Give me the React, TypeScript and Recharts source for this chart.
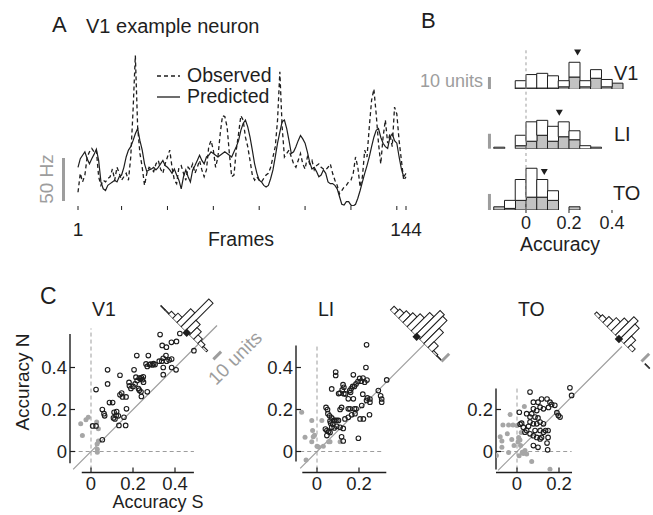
import React from 'react';
import {
  LineChart,
  Line,
  BarChart,
  Bar,
  ScatterChart,
  Scatter,
  XAxis,
  YAxis,
  Legend,
  ReferenceLine,
  ReferenceDot,
} from 'recharts';

const FONT = "'Liberation Sans', Arial, Helvetica, sans-serif";
const INK = '#1e1e1e';
const GREY = '#9d9d9d';
const BAR_GREY = '#c2c2c2';
const DOT_GREY = '#a6a6a6';

// ---------- A: V1 example neuron, rate per frame (Hz)
const observedHz = [
  21, 43, 33, 41, 62, 68, 72, 68, 70, 39,
  29, 35, 33, 37, 39, 48, 35, 50, 43, 35,
  39, 43, 35, 62, 116, 180, 97, 66, 50, 29,
  43, 50, 48, 45, 54, 58, 48, 43, 54, 62,
  70, 50, 35, 31, 50, 52, 43, 35, 50, 47,
  54, 43, 50, 58, 47, 39, 47, 74, 81, 70,
  50, 62, 89, 110, 109, 97, 66, 39, 41, 70,
  89, 110, 105, 85, 74, 58, 41, 35, 39, 35,
  33, 37, 41, 43, 50, 62, 74, 105, 161, 97,
  62, 66, 70, 62, 54, 50, 58, 66, 54, 48,
  62, 54, 58, 47, 52, 54, 50, 48, 47, 50,
  54, 43, 35, 29, 19, 23, 27, 29, 33, 35,
  43, 62, 50, 27, 39, 70, 62, 97, 128, 141,
  112, 78, 54, 85, 105, 78, 89, 74, 120, 112,
  81, 58, 35, 39,
];
const predictedHz = [
  50, 60, 64, 68, 60, 54, 60, 65, 71, 58,
  33, 25, 23, 29, 31, 33, 35, 33, 39, 41,
  50, 62, 70, 74, 81, 89, 95, 81, 70, 54,
  45, 47, 48, 50, 47, 50, 54, 58, 52, 50,
  47, 43, 48, 41, 35, 25, 39, 47, 39, 33,
  47, 52, 58, 64, 58, 54, 62, 64, 68, 66,
  64, 62, 64, 66, 68, 66, 64, 62, 68, 74,
  81, 93, 101, 105, 97, 85, 70, 54, 43, 35,
  33, 29, 27, 29, 37, 47, 62, 78, 91, 103,
  105, 95, 81, 66, 68, 74, 81, 87, 83, 78,
  68, 56, 48, 50, 45, 39, 41, 47, 43, 33,
  31, 31, 29, 25, 16, 7, 6, 10, 10, 6,
  5, 7, 14, 23, 33, 43, 52, 62, 74, 85,
  93, 95, 85, 78, 74, 72, 85, 89, 81, 78,
  62, 48, 39, 43,
];
const frameTicks = [1, 20, 40, 60, 80, 100, 120, 140, 144];

// ---------- B: accuracy histograms (bin centres, 0.05 wide)
const accBins = [-0.125, -0.075, -0.025, 0.025, 0.075, 0.125, 0.175, 0.225, 0.275, 0.325, 0.375, 0.425];
const v1Count = [0, 0, 7, 12, 13, 11, 7, 22, 7, 16, 8, 5];
const v1Grey = [0, 0, 1, 1, 1, 1, 2, 10, 2, 9, 2, 5];
const liCount = [1, 0, 9, 18, 19, 15, 18, 12, 2, 1, 0, 0];
const liGrey = [1, 0, 2, 5, 9, 5, 8, 6, 0, 1, 0, 0];
const toCount = [2, 6, 19, 26, 19, 12, 0, 2, 0, 0, 0, 0];
const toGrey = [2, 1, 6, 8, 8, 6, 0, 2, 0, 0, 0, 0];
const v1Median = 0.24;
const liMedian = 0.155;
const toMedian = 0.085;

// ---------- C: accuracy N vs accuracy S, [S, N]
const v1Sig: [number, number][] = [
  [0.024, 0.295], [0.079, 0.389], [0.079, 0.322], [0.008, 0.122], [0.024, 0.122], [0.054, 0.2],
  [0.062, 0.18], [0.065, 0.17], [0.054, 0.056], [0.088, 0.233], [0.103, 0.233], [0.138, 0.363],
  [0.11, 0.187], [0.122, 0.19], [0.13, 0.17], [0.107, 0.16], [0.114, 0.155], [0.133, 0.124],
  [0.138, 0.27], [0.146, 0.278], [0.15, 0.26], [0.167, 0.26], [0.169, 0.203], [0.165, 0.124],
  [0.181, 0.329], [0.183, 0.313], [0.205, 0.389], [0.218, 0.457], [0.21, 0.322], [0.214, 0.354],
  [0.22, 0.338], [0.23, 0.35], [0.24, 0.352], [0.245, 0.342], [0.236, 0.345], [0.249, 0.356],
  [0.226, 0.3], [0.23, 0.292], [0.238, 0.284], [0.24, 0.262], [0.268, 0.284], [0.262, 0.417],
  [0.268, 0.405], [0.278, 0.414], [0.273, 0.457], [0.284, 0.416], [0.292, 0.412], [0.298, 0.418],
  [0.305, 0.414], [0.325, 0.43], [0.337, 0.43], [0.344, 0.4], [0.344, 0.366], [0.339, 0.505],
  [0.359, 0.497], [0.36, 0.43], [0.357, 0.457], [0.384, 0.44], [0.384, 0.4], [0.405, 0.389],
  [0.329, 0.557], [0.383, 0.52], [0.407, 0.524], [0.423, 0.562], [0.49, 0.48], [0.372, 0.436],
  [0.344, 0.444], [0.157, 0.163], [0.12, 0.172], [0.19, 0.3], [0.25, 0.33], [0.2, 0.31],
];
const v1NonSig: [number, number][] = [
  [-0.049, 0.132], [-0.041, 0.076], [-0.024, 0.151], [-0.013, 0.163], [0.027, 0.141],
  [0.035, 0.108], [0.029, 0.036], [0.03, 0.011], [0.03, -0.004], [0.035, 0.05],
];
const liSig: [number, number][] = [
  [0.236, 0.508], [0.089, 0.378], [0.089, 0.362], [0.173, 0.365], [0.233, 0.4], [0.07, 0.298],
  [0.124, 0.318], [0.12, 0.293], [0.128, 0.306], [0.103, 0.276], [0.11, 0.278], [0.128, 0.275],
  [0.136, 0.274], [0.156, 0.29], [0.163, 0.3], [0.17, 0.31], [0.178, 0.31], [0.186, 0.322],
  [0.195, 0.333], [0.203, 0.348], [0.211, 0.335], [0.219, 0.35], [0.227, 0.33], [0.238, 0.34],
  [0.149, 0.251], [0.16, 0.282], [0.173, 0.251], [0.218, 0.273], [0.236, 0.243], [0.252, 0.25],
  [0.252, 0.235], [0.292, 0.29], [0.303, 0.265], [0.308, 0.25], [0.308, 0.235], [0.332, 0.341],
  [0.213, 0.219], [0.178, 0.203], [0.186, 0.203], [0.149, 0.203], [0.157, 0.203], [0.11, 0.2],
  [0.117, 0.21], [0.043, 0.21], [0.05, 0.2], [0.052, 0.18], [0.06, 0.17], [0.07, 0.16],
  [0.08, 0.148], [0.086, 0.148], [0.094, 0.148], [0.102, 0.148], [0.062, 0.145], [0.065, 0.135],
  [0.075, 0.13], [0.07, 0.115], [0.082, 0.112], [0.047, 0.1], [0.055, 0.095], [0.062, 0.09],
  [0.094, 0.12], [0.11, 0.115], [0.125, 0.11], [0.133, 0.155], [0.149, 0.163], [0.165, 0.175],
  [0.181, 0.18], [0.205, 0.155], [0.221, 0.155], [0.25, 0.175], [0.117, 0.07], [0.125, 0.05],
  [0.197, 0.063], [0.047, 0.076], [0.04, 0.107], [0.24, 0.255],
];
const liNonSig: [number, number][] = [
  [-0.073, 0.187], [-0.025, 0.148], [0.023, 0.148], [-0.057, 0.068], [-0.021, 0.1],
  [-0.018, 0.07], [-0.012, 0.077], [-0.025, 0.046], [0.0, 0.025], [0.008, 0.022],
  [0.03, 0.025], [0.055, 0.046], [0.062, 0.046], [0.11, 0.046], [-0.052, -0.04],
];
const toSig: [number, number][] = [
  [0.062, 0.283], [0.252, 0.303], [0.26, 0.267], [0.117, 0.25], [0.078, 0.235], [0.1, 0.235],
  [0.143, 0.25], [0.157, 0.235], [0.011, 0.187], [0.022, 0.135], [0.046, 0.18], [0.062, 0.164],
  [0.078, 0.203], [0.094, 0.195], [0.11, 0.211], [0.126, 0.203], [0.15, 0.21], [0.165, 0.224],
  [0.18, 0.22], [0.197, 0.172], [0.205, 0.164], [0.062, 0.14], [0.078, 0.132], [0.094, 0.132],
  [0.03, 0.116], [0.046, 0.1], [0.062, 0.084], [0.086, 0.1], [0.11, 0.1], [0.126, 0.092],
  [0.136, 0.1], [0.148, 0.1], [0.078, 0.075], [0.094, 0.067], [0.11, 0.06], [0.117, 0.067],
  [0.148, 0.067], [0.015, 0.13], [0.038, 0.092], [0.078, 0.028], [0.1, 0.02], [0.143, 0.04],
  [0.146, 0.008], [0.07, 0.18], [0.086, 0.164], [0.11, 0.14], [0.126, 0.132], [0.1, 0.16],
  [0.055, 0.12], [0.19, 0.185],
];
const toNonSig: [number, number][] = [
  [-0.098, -0.019], [-0.033, 0.176], [-0.067, 0.126], [-0.04, 0.126], [-0.019, 0.126],
  [-0.08, 0.07], [-0.072, 0.05], [-0.025, 0.057], [0.014, 0.055], [-0.072, 0.02],
  [-0.046, 0.084], [0.0, 0.124], [0.008, 0.067], [0.017, 0.028], [0.025, -0.003],
  [0.03, -0.01], [0.038, 0.005], [-0.014, 0.028], [0.035, 0.214], [0.07, -0.048],
  [0.046, -0.012], [0.157, -0.085], [0.005, 0.045], [0.02, 0.09], [0.01, -0.02], [-0.04, -0.005],
];

// diagonal insets: histogram of N - S (0.04 bins, upper-left = N > S)
const diffBins = [0.34, 0.3, 0.26, 0.22, 0.18, 0.14, 0.1, 0.06, 0.02, -0.02, -0.06, -0.1, -0.14, -0.18, -0.22, -0.26];
const v1DiffCount = [1, 1, 4, 7, 18, 36, 14, 10, 6, 4, 2, 0, 0, 0, 0, 0];
const v1DiffGrey = [1, 1, 0, 0, 0, 0, 0, 0, 0, 0, 0, 0, 0, 0, 0, 0];
const liDiffCount = [0, 5, 7, 10, 13, 17, 24, 32, 30, 20, 8, 2, 1, 0, 0, 0];
const liDiffGrey = [0, 0, 0, 0, 0, 0, 0, 0, 0, 0, 0, 0, 1, 0, 0, 0];
const toDiffCount = [0, 0, 3, 5, 8, 12, 17, 24, 20, 10, 4, 0, 0, 0, 1, 0];
const toDiffGrey = [0, 0, 0, 0, 0, 0, 0, 0, 0, 0, 0, 0, 0, 0, 1, 0];
const v1DiffMean = 0.105;
const liDiffMean = 0.067;
const toDiffMean = 0.045;

const fmtAcc = (v: number) => (v === 0 ? '0' : String(v));

function Label({ x, y, size = 19, color = INK, align = 'left', children }: any) {
  const shift = align === 'center' ? '-50%' : align === 'right' ? '-100%' : '0';
  return (
    <div
      style={{
        position: 'absolute',
        left: x,
        top: y - 0.85 * size,
        fontSize: size,
        lineHeight: 1,
        color,
        whiteSpace: 'nowrap',
        transform: `translateX(${shift})`,
      }}
    >
      {children}
    </div>
  );
}

function RotLabel({ cx, cy, size = 19, color = INK, angle, children }: any) {
  return (
    <div
      style={{
        position: 'absolute',
        left: cx,
        top: cy,
        fontSize: size,
        lineHeight: 1,
        color,
        whiteSpace: 'nowrap',
        transform: `translate(-50%, -50%) rotate(${angle}deg)`,
      }}
    >
      {children}
    </div>
  );
}

const TraceLegend = (props: any) => (
  <div style={{ fontSize: 19.5, lineHeight: '21px', color: INK }}>
    {(props.payload || []).map((e: any) => (
      <div key={e.value} style={{ display: 'flex', alignItems: 'center' }}>
        <svg width={30} height={21}>
          <line
            x1={0}
            x2={23}
            y1={11}
            y2={11}
            stroke={INK}
            strokeWidth={1.3}
            strokeDasharray={e.payload?.strokeDasharray}
          />
        </svg>
        <span>{e.value}</span>
      </div>
    ))}
  </div>
);

function TracePanel() {
  const data = observedHz.map((v, i) => ({ frame: i + 1, observed: v, predicted: predictedHz[i] }));
  return (
    <div style={{ position: 'absolute', left: 0, top: 0 }}>
      <LineChart width={440} height={250} data={data} margin={{ top: 34, right: 34, bottom: 14, left: 78 }}>
        <XAxis
          dataKey="frame"
          type="number"
          domain={[1, 144]}
          ticks={frameTicks}
          interval={0}
          axisLine={false}
          tickSize={4}
          tickMargin={13}
          tickLine={{ stroke: INK }}
          tick={{ fontSize: 19, fill: INK }}
          tickFormatter={(v: number) => (v === 1 || v === 144 ? String(v) : '')}
          height={30}
        />
        <YAxis hide domain={[5, 205]} allowDataOverflow />
        <Line
          dataKey="observed"
          name="Observed"
          stroke={INK}
          strokeWidth={1.3}
          strokeDasharray="4 3"
          dot={false}
          isAnimationActive={false}
        />
        <Line dataKey="predicted" name="Predicted" stroke={INK} strokeWidth={1.2} dot={false} isAnimationActive={false} />
        <Legend
          content={TraceLegend}
          layout="vertical"
          align="center"
          verticalAlign="middle"
          wrapperStyle={{ left: 157, top: 65, width: 'auto' }}
        />
      </LineChart>
    </div>
  );
}

const Triangle = (p: any) => (
  <path d={`M${p.cx - 3.5},${p.cy - 3} L${p.cx + 3.5},${p.cy - 3} L${p.cx},${p.cy + 3} Z`} fill={INK} />
);

const B_LEFT = 483; // plot left (accuracy -0.2)
const B_W = 0.66 * 215;

function HistRow({ count, grey, median, markerY, yMax, plotTop, plotH, showAxis }: any) {
  const data = accBins.map((b, i) => ({ bin: b, grey: grey[i], white: count[i] - grey[i] }));
  const axisH = showAxis ? 30 : 0;
  return (
    <div style={{ position: 'absolute', left: B_LEFT - 3, top: plotTop - 6 }}>
      <BarChart
        width={B_W + 6}
        height={plotH + 6 + axisH}
        data={data}
        margin={{ top: 6, right: 3, bottom: 0, left: 3 }}
        barCategoryGap={0}
        barGap={0}
      >
        <XAxis
          dataKey="bin"
          type="number"
          domain={[-0.2, 0.46]}
          allowDataOverflow
          hide={!showAxis}
          ticks={[0, 0.2, 0.4]}
          interval={0}
          axisLine={false}
          tickSize={3}
          tickMargin={3}
          tickLine={{ stroke: INK }}
          tick={{ fontSize: 18, fill: INK }}
          tickFormatter={fmtAcc}
          height={axisH}
        />
        <YAxis hide domain={[0, yMax]} allowDataOverflow />
        <ReferenceLine x={0} stroke={GREY} strokeDasharray="3 3" ifOverflow="visible" />
        <Bar dataKey="grey" stackId="h" fill={BAR_GREY} stroke={INK} strokeWidth={1} isAnimationActive={false} />
        <Bar dataKey="white" stackId="h" fill="#fff" stroke={INK} strokeWidth={1} isAnimationActive={false} />
        <ReferenceLine
          segment={[{ x: -0.17, y: 0 }, { x: -0.17, y: 10 }]}
          stroke={GREY}
          strokeWidth={3}
          ifOverflow="visible"
        />
        <ReferenceDot x={median} y={markerY} shape={Triangle} ifOverflow="visible" />
      </BarChart>
    </div>
  );
}

const K = 210; // px per accuracy unit in C
const Y0 = 451; // pixel of accuracy N = 0
const KI = 148; // px per diff unit in the insets
const INSET_H = 46;
const INSET_MAX = 42;
const TICK = 5 / K; // inward tick length in data units

const OpenDot = (p: any) => <circle cx={p.cx} cy={p.cy} r={2.3} fill="none" stroke={INK} strokeWidth={1.1} />;
const GreyDot = (p: any) => <circle cx={p.cx} cy={p.cy} r={2.5} fill={DOT_GREY} />;
const Diamond = (p: any) => <rect x={p.cx - 3} y={p.cy - 3} width={6} height={6} fill={INK} />;

function ScatterPanel({ x0, xMax, yMax, xTicks, yTicks, sig, nonSig, xLine, yLine, hDash, vDash, diag }: any) {
  const plotLeft = x0 - 0.1 * K;
  const plotTop = Y0 - yMax * K;
  const plotW = (xMax + 0.1) * K;
  const plotH = (yMax + 0.1) * K;
  const m = { top: 10, right: 10, bottom: 5, left: 5 };
  const yAxisW = 40;
  const xAxisH = 30;
  const sigData = sig.map(([s, n]: number[]) => ({ s, n }));
  const nsData = nonSig.map(([s, n]: number[]) => ({ s, n }));
  return (
    <div style={{ position: 'absolute', left: plotLeft - m.left - yAxisW, top: plotTop - m.top }}>
      <ScatterChart
        width={plotW + m.left + m.right + yAxisW}
        height={plotH + m.top + m.bottom + xAxisH}
        margin={m}
      >
        <XAxis
          dataKey="s"
          type="number"
          domain={[-0.1, xMax]}
          allowDataOverflow
          ticks={xTicks}
          interval={0}
          axisLine={false}
          tickLine={false}
          tickSize={0}
          tickMargin={4}
          tick={{ fontSize: 18.5, fill: INK }}
          tickFormatter={fmtAcc}
          height={xAxisH}
        />
        <YAxis
          dataKey="n"
          type="number"
          domain={[-0.1, yMax]}
          allowDataOverflow
          ticks={yTicks}
          interval={0}
          axisLine={false}
          tickLine={false}
          tickSize={0}
          tickMargin={3}
          tick={{ fontSize: 18.5, fill: INK }}
          tickFormatter={fmtAcc}
          width={yAxisW}
        />
        <ReferenceLine
          segment={[{ x: 0, y: vDash[0] }, { x: 0, y: vDash[1] }]}
          stroke={GREY}
          strokeDasharray="4 3"
          ifOverflow="visible"
        />
        <ReferenceLine
          segment={[{ x: hDash[0], y: 0 }, { x: hDash[1], y: 0 }]}
          stroke={GREY}
          strokeDasharray="4 3"
          ifOverflow="visible"
        />
        <ReferenceLine
          segment={[{ x: diag[0], y: diag[0] }, { x: diag[1], y: diag[1] }]}
          stroke={GREY}
          strokeWidth={1.2}
          ifOverflow="visible"
        />
        <ReferenceLine
          segment={[{ x: -0.1, y: yLine[0] }, { x: -0.1, y: yLine[1] }]}
          stroke={INK}
          strokeWidth={1.4}
          ifOverflow="visible"
        />
        <ReferenceLine
          segment={[{ x: xLine[0], y: -0.1 }, { x: xLine[1], y: -0.1 }]}
          stroke={INK}
          strokeWidth={1.4}
          ifOverflow="visible"
        />
        {xTicks.map((t: number) => (
          <ReferenceLine
            key={`xt${t}`}
            segment={[{ x: t, y: -0.1 }, { x: t, y: -0.1 + TICK }]}
            stroke={INK}
            strokeWidth={1.2}
            ifOverflow="visible"
          />
        ))}
        {yTicks.map((t: number) => (
          <ReferenceLine
            key={`yt${t}`}
            segment={[{ x: -0.1, y: t }, { x: -0.1 + TICK, y: t }]}
            stroke={INK}
            strokeWidth={1.2}
            ifOverflow="visible"
          />
        ))}
        <Scatter data={nsData} shape={GreyDot} isAnimationActive={false} />
        <Scatter data={sigData} shape={OpenDot} isAnimationActive={false} />
      </ScatterChart>
    </div>
  );
}

function DiffInset({ x0, count, grey, mean, scaleAt }: any) {
  const data = diffBins.map((b, i) => ({ bin: b, grey: grey[i], white: count[i] - grey[i] }));
  const crossX = x0 + 0.51 * K;
  const crossY = Y0 - 0.51 * K;
  const back = 0.36 * KI * Math.SQRT1_2;
  const sx = crossX - back;
  const sy = crossY - back;
  const mg = 4;
  const w = 0.64 * KI;
  return (
    <div
      style={{
        position: 'absolute',
        left: sx - mg,
        top: sy - mg - INSET_H,
        transformOrigin: `${mg}px ${mg + INSET_H}px`,
        transform: 'rotate(45deg)',
      }}
    >
      <BarChart
        width={w + 2 * mg}
        height={INSET_H + 2 * mg}
        data={data}
        margin={{ top: mg, right: mg, bottom: mg, left: mg }}
        barCategoryGap={0}
        barGap={0}
      >
        <XAxis dataKey="bin" type="number" domain={[-0.28, 0.36]} reversed hide allowDataOverflow />
        <YAxis hide domain={[0, INSET_MAX]} allowDataOverflow />
        <Bar dataKey="grey" stackId="d" fill={BAR_GREY} stroke={INK} strokeWidth={1} isAnimationActive={false} />
        <Bar dataKey="white" stackId="d" fill="#fff" stroke={INK} strokeWidth={1} isAnimationActive={false} />
        <ReferenceLine
          segment={[{ x: scaleAt, y: 0 }, { x: scaleAt, y: 10 }]}
          stroke={GREY}
          strokeWidth={3}
          ifOverflow="visible"
        />
        <ReferenceDot x={mean} y={0} shape={Diamond} ifOverflow="visible" />
      </BarChart>
    </div>
  );
}

export default function App() {
  return (
    <div
      style={{
        position: 'absolute',
        left: 0,
        top: 0,
        width: 653,
        height: 515,
        background: '#fff',
        fontFamily: FONT,
        color: INK,
        overflow: 'hidden',
      }}
    >
      {/* A */}
      <TracePanel />
      <Label x={52} y={33} size={22}>A</Label>
      <Label x={86} y={33} size={20}>V1 example neuron</Label>
      <div style={{ position: 'absolute', left: 62, top: 158, width: 3, height: 43, background: GREY }} />
      <RotLabel cx={46} cy={179} size={19} color={GREY} angle={-90}>50 Hz</RotLabel>
      <Label x={241} y={247} size={19.5} align="center">Frames</Label>

      {/* B */}
      <Label x={421} y={29} size={22}>B</Label>
      <HistRow count={v1Count} grey={v1Grey} median={v1Median} markerY={30} yMax={32} plotTop={50} plotH={39.3} />
      <HistRow count={liCount} grey={liGrey} median={liMedian} markerY={24} yMax={40} plotTop={89.3} plotH={59.7} />
      <HistRow count={toCount} grey={toGrey} median={toMedian} markerY={23.7} yMax={38} plotTop={149} plotH={61} showAxis />
      <Label x={483} y={87} size={18} color={GREY} align="right">10 units</Label>
      <Label x={614} y={80} size={20}>V1</Label>
      <Label x={614} y={141} size={20}>LI</Label>
      <Label x={613} y={200} size={20}>TO</Label>
      <Label x={560} y={252} size={19.5} align="center">Accuracy</Label>

      {/* C */}
      <Label x={40} y={305} size={23}>C</Label>
      <ScatterPanel
        x0={91}
        xMax={0.65}
        yMax={0.65}
        xTicks={[0, 0.2, 0.4]}
        yTicks={[0, 0.2, 0.4]}
        sig={v1Sig}
        nonSig={v1NonSig}
        xLine={[-0.044, 0.49]}
        yLine={[-0.056, 0.56]}
        vDash={[-0.086, 0.586]}
        hDash={[-0.092, 0.49]}
        diag={[-0.085, 0.6]}
      />
      <ScatterPanel
        x0={317}
        xMax={0.55}
        yMax={0.55}
        xTicks={[0, 0.2]}
        yTicks={[0, 0.2, 0.4]}
        sig={liSig}
        nonSig={liNonSig}
        xLine={[-0.07, 0.33]}
        yLine={[-0.048, 0.505]}
        vDash={[-0.086, 0.5]}
        hDash={[-0.08, 0.31]}
        diag={[-0.08, 0.52]}
      />
      <ScatterPanel
        x0={517}
        xMax={0.55}
        yMax={0.55}
        xTicks={[0, 0.2]}
        yTicks={[0, 0.2]}
        sig={toSig}
        nonSig={toNonSig}
        xLine={[-0.1, 0.262]}
        yLine={[-0.086, 0.3]}
        vDash={[-0.086, 0.3]}
        hDash={[-0.08, 0.26]}
        diag={[-0.09, 0.5]}
      />
      <DiffInset x0={91} count={v1DiffCount} grey={v1DiffGrey} mean={v1DiffMean} scaleAt={-0.15} />
      <DiffInset x0={317} count={liDiffCount} grey={liDiffGrey} mean={liDiffMean} scaleAt={-0.17} />
      <DiffInset x0={517} count={toDiffCount} grey={toDiffGrey} mean={toDiffMean} scaleAt={-0.17} />
      <Label x={92} y={317} size={19.5}>V1</Label>
      <Label x={318} y={317} size={19.5}>LI</Label>
      <Label x={518} y={317} size={19.5}>TO</Label>
      <RotLabel cx={22} cy={382} size={19} angle={-90}>Accuracy N</RotLabel>
      <Label x={158} y={508} size={18} align="center">Accuracy S</Label>
      <RotLabel cx={235} cy={358} size={19} color={GREY} angle={-45}>10 units</RotLabel>
    </div>
  );
}
